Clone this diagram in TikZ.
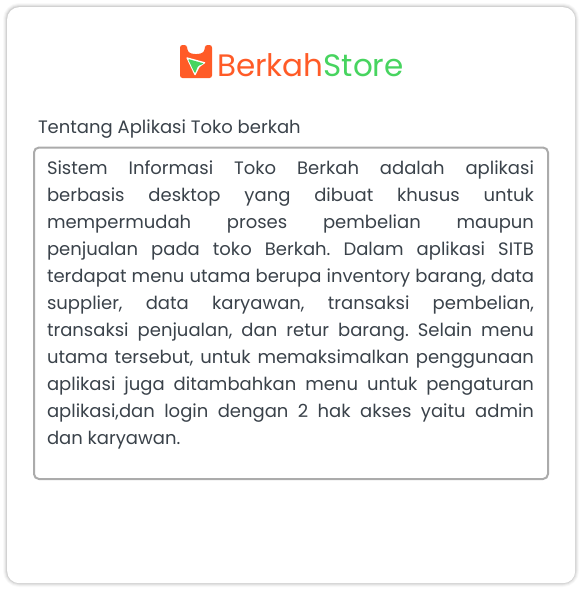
\documentclass[tikz,border=0pt]{standalone}
\usepackage{fontspec}
\setmainfont{Poppins}
\definecolor{inkc}{HTML}{3A424A}
\definecolor{edgec}{HTML}{ABABAB}
\definecolor{orangec}{HTML}{FF5B27}
\definecolor{greenc}{HTML}{47D45F}
\tikzset{x=1pt,y=-1pt,
 cardshadow/.style={draw=black,rounded corners=12pt},
 bodybox/.style={draw=edgec,line width=2pt,rounded corners=5pt,fill=white},
 tx/.style={inner sep=0pt,outer sep=0pt,text=inkc}}
\begin{document}
\begin{tikzpicture}
\useasboundingbox (0,0) rectangle (582,590);
\fill[white] (0,0) rectangle (582,590);
\foreach \w/\o in {8/0.025,6/0.035,4/0.05,2/0.07}{
 \draw[cardshadow,line width=\w pt,draw opacity=\o] (7,7) rectangle (575,583);
}
\node[draw=none,fill=white,rounded corners=12pt,minimum width=568pt,minimum height=576pt,inner sep=0pt,anchor=north west] (card) at (7,7) {};
% logo bag
\fill[orangec,rounded corners=2.5pt] (180,45) -- (187,45) -- (187,49) .. controls (190,55) and (202,55) .. (205,49) -- (205,45) -- (212,45) -- (212,78) -- (180,78) -- cycle;
\fill[white,rounded corners=1pt] (186,57) -- (206,62.5) -- (199.5,67) -- (195,76) -- cycle;
\fill[greenc,rounded corners=1pt] (188,59) -- (204,63.5) -- (198,66) -- (195,73.5) -- cycle;
\node[tx,anchor=base west] (logo) at (217,76.5) {\fontsize{31}{31}\selectfont\color{orangec}Berkah\color{greenc}Store};
\node[tx,anchor=base west] (title) at (38,133) {\fontsize{18}{20}\selectfont Tentang Aplikasi Toko berkah};
\node[bodybox,anchor=north west,minimum width=514pt,minimum height=331.5pt,inner sep=0pt] (box) at (33,146.5) {};
\node[tx,anchor=north west,text width=487pt,align=justify] (body) at (47,160.5) {\fontsize{18}{27}\selectfont\hbadness=10000\hfuzz=20pt\frenchspacing
Sistem Informasi Toko Berkah adalah aplikasi\linebreak
berbasis desktop yang dibuat khusus untuk\linebreak
mempermudah proses pembelian maupun\linebreak
penjualan pada toko Berkah. Dalam aplikasi SITB\linebreak
terdapat menu utama berupa inventory barang, data\linebreak
supplier, data karyawan, transaksi pembelian,\linebreak
transaksi penjualan, dan retur barang. Selain menu\linebreak
utama tersebut, untuk memaksimalkan penggunaan\linebreak
aplikasi juga ditambahkan menu untuk pengaturan\linebreak
aplikasi,dan login dengan 2 hak akses yaitu admin\linebreak
dan karyawan.\par};
\end{tikzpicture}
\end{document}
